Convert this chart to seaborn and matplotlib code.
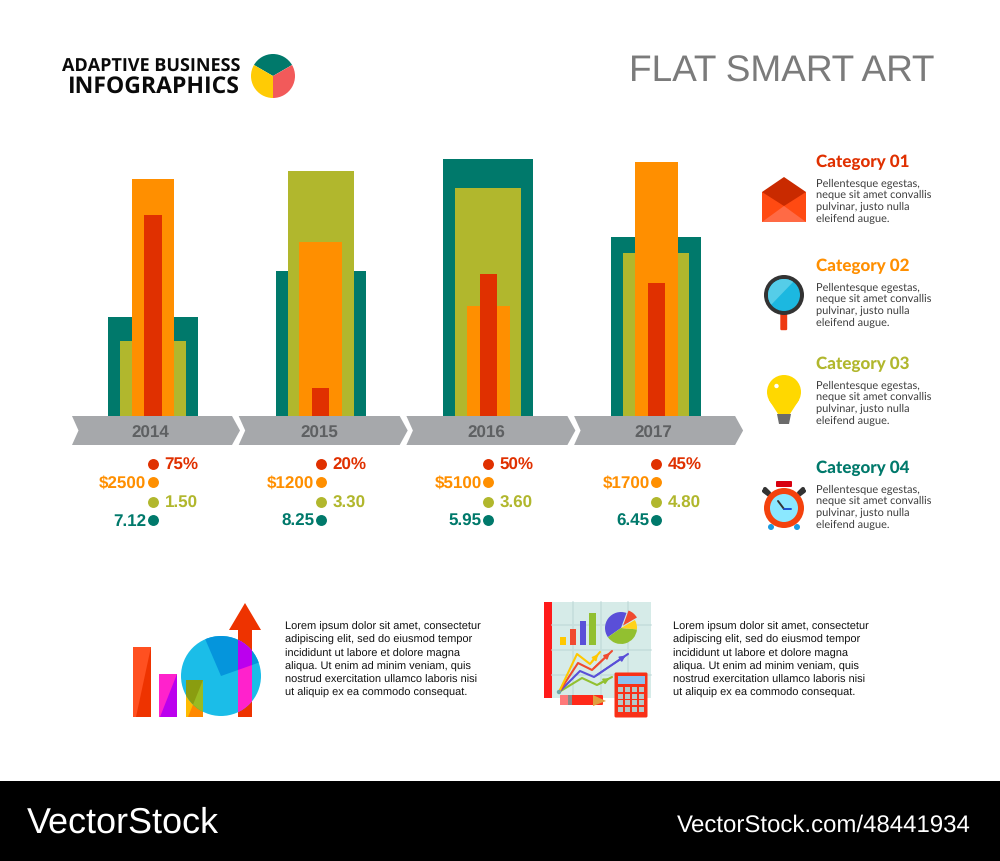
import matplotlib
matplotlib.use("Agg")
import matplotlib.pyplot as plt
import matplotlib.transforms as mtrans
import pandas as pd
import seaborn as sns
from matplotlib.patches import Polygon, Circle, FancyBboxPatch, Rectangle

# ---------- data ----------
years = ["2014", "2015", "2016", "2017"]
teal_heights = [99, 145, 257, 179]
olive_heights = [75, 245, 228, 163]
orange_heights = [237, 174, 110, 254]
red_heights = [201, 28, 142, 133]
red_labels = ["75%", "20%", "50%", "45%"]
orange_labels = ["$2500", "$1200", "$5100", "$1700"]
olive_labels = ["1.50", "3.30", "3.60", "4.80"]
teal_labels = ["7.12", "8.25", "5.95", "6.45"]
categories = ["Category 01", "Category 02", "Category 03", "Category 04"]
body_lines = ["Pellentesque egestas,", "neque sit amet convallis", "pulvinar, justo nulla", "eleifend augue."]
lorem_lines = ["Lorem ipsum dolor sit amet, consectetur", "adipiscing elit, sed do eiusmod tempor",
               "incididunt ut labore et dolore magna", "aliqua. Ut enim ad minim veniam, quis",
               "nostrud exercitation ullamco laboris nisi", "ut aliquip ex ea commodo consequat."]
logo_shares = [1, 1, 1]
mini_pie_shares = [145, 140, 35, 40]

TEAL, OLIVE, ORANGE, RED = "#00796b", "#b1b72d", "#ff8f00", "#e03000"
W, H = 1000, 861
sans = "Liberation Sans"

sns.set_theme(style="white", rc={"font.family": sans, "text.hinting": "none", "text.hinting_factor": 1})
fig = plt.figure(figsize=(W / 100, H / 100), dpi=100, facecolor="white")

# full-figure layer in pixel units
bg = fig.add_axes([0, 0, 1, 1], zorder=0)
bg.set_xlim(0, W)
bg.set_ylim(H, 0)
bg.axis("off")
bg.set_autoscale_on(False)

def poly(pts, color, ax=bg, z=2, clip=None):
    p = Polygon(pts, closed=True, facecolor=color, edgecolor="none", zorder=z)
    ax.add_patch(p)
    if clip is not None:
        p.set_clip_path(clip)
    return p

def circ(x, y, r, color, z=2):
    c = Circle((x, y), r, facecolor=color, edgecolor="none", zorder=z)
    bg.add_patch(c)
    return c

# ---------- bars ----------
step = 167.7
x0 = 153 - step / 2
base_y, top_y = 416, 150
ax = fig.add_axes([x0 / W, (H - base_y) / H, 4 * step / W, (base_y - top_y) / H], zorder=2)
df = pd.DataFrame({"year": years, "teal": teal_heights, "olive": olive_heights,
                   "orange": orange_heights, "red": red_heights})
for col, colr, wd in [("teal", TEAL, 0.537), ("olive", OLIVE, 0.394),
                      ("orange", ORANGE, 0.256), ("red", RED, 0.102)]:
    sns.barplot(data=df, x="year", y=col, color=colr, width=wd, saturation=1,
                errorbar=None, linewidth=0, edgecolor="none", ax=ax)
ax.set_xlim(-0.5, 3.5)
ax.set_ylim(0, base_y - top_y)
ax.patch.set_alpha(0)
ax.set_xlabel("")
ax.set_ylabel("")
ax.set_yticks([])
sns.despine(ax=ax, left=True, bottom=True)
ax.tick_params(axis="x", length=0, pad=12.8)
label_shift = [-3, -1, -2.5, -2.5]
for t, dx in zip(ax.get_xticklabels(), label_shift):
    t.set_fontsize(12.2)
    t.set_fontweight("bold")
    t.set_color("#5e6062")
    t.set_va("center")
    t.set_transform(t.get_transform() + mtrans.ScaledTranslation(dx / 100, 0, fig.dpi_scale_trans))

# chevrons
for i in range(4):
    l = 72 + step * i - (1 if i else 0)
    r = 240 + step * i
    poly([(l, 416), (r - 8, 416), (r, 430.5), (r - 8, 445), (l, 445), (l + 6.5, 430.5)], "#a6a8ab")

# ---------- value rows ----------
rows = [(red_labels, RED, 464, "left"), (orange_labels, ORANGE, 482, "right"),
        (olive_labels, OLIVE, 502, "left"), (teal_labels, TEAL, 520, "right")]
for labels, colr, yy, side in rows:
    xs = [153 + step * i for i in range(4)]
    sns.scatterplot(x=xs, y=[yy] * 4, color=colr, s=62, linewidth=0, ax=bg, legend=False, zorder=3)
    for x, lab in zip(xs, labels):
        if side == "left":
            bg.text(x + 11.5, yy + 1.2, lab, color=colr, fontsize=11.9, fontweight="bold", ha="left", va="center")
        else:
            bg.text(x - 6.5, yy + 1.2, lab, color=colr, fontsize=11.9, fontweight="bold", ha="right", va="center")
bg.set_xlim(0, W)
bg.set_ylim(H, 0)

# ---------- header ----------
bg.text(934, 72, "FLAT SMART ART", color="#7b7b7b", fontsize=26.95, ha="right", va="center")
bg.text(240, 66, "ADAPTIVE BUSINESS", color="#0a0a0a", fontsize=12.7, fontweight="bold",
        family="Open Sans", ha="right", va="center")
bg.text(240, 86.5, "INFOGRAPHICS", color="#0a0a0a", fontsize=16.7, fontweight="bold",
        family="Open Sans", ha="right", va="center")
logo = fig.add_axes([(273 - 22) / W, (H - 76 - 22) / H, 44 / W, 44 / H], zorder=3)
logo.pie(logo_shares, colors=[TEAL, "#ffcb05", "#f25a5a"], startangle=30, radius=1.0,
         wedgeprops={"linewidth": 0, "edgecolor": "none"})
logo.set_xlim(-1, 1)
logo.set_ylim(-1, 1)

# ---------- categories ----------
cat_colors = [RED, ORANGE, OLIVE, TEAL]
cat_y = [162.5, 266.5, 364.5, 468.5]
for name, colr, yy in zip(categories, cat_colors, cat_y):
    bg.text(816, yy, name, color=colr, fontsize=11.95, fontweight="black", family="Lato", ha="left", va="center")
    for j, line in enumerate(body_lines):
        bg.text(816, yy + 21 + j * 11.8, line, color="#3d3d3d", fontsize=7.75, family="Lato", ha="left", va="center")

# envelope
poly([(762, 192), (806, 192), (806, 222), (762, 222)], "#ff4a12")
poly([(762, 192), (784, 177), (806, 192), (784, 206)], "#c92a00", z=3)
poly([(762, 222), (784, 206), (806, 222)], "#ff6a45", z=3)
# magnifier
bg.add_patch(FancyBboxPatch((781.5, 314), 4.5, 15, boxstyle="round,pad=1.2", fc="#ee3a12", ec="none", zorder=2))
circ(784, 295, 20, "#333333", z=3)
lens = circ(784, 295, 16, "#1cb8e0", z=4)
poly([(768, 279), (796, 279), (770, 306), (768, 306)], "#55cde8", z=5, clip=lens)
# bulb
poly([(769, 400), (799, 400), (790, 414), (778, 414)], "#ffd800")
circ(784, 392, 17, "#ffd800")
circ(776.5, 386, 2.2, "white", z=3)
poly([(777, 414), (791, 414), (789, 424), (779, 424)], "#6b6b6b")
# clock
bg.add_patch(FancyBboxPatch((777, 482), 14, 4, boxstyle="round,pad=1", fc="#d8000f", ec="none", zorder=2))
for a, b in [((764, 491), (772, 497)), ((804, 491), (796, 497)), ((765, 489), (769, 493)), ((803, 489), (799, 493))]:
    bg.plot([a[0], b[0]], [a[1], b[1]], color="#333333", lw=3, zorder=2, solid_capstyle="round")
circ(771, 527, 3, "#1b9be0")
circ(797, 527, 3, "#1b9be0")
circ(784, 508, 20, "#f4420d", z=3)
circ(784, 508, 14, "#8be8ff", z=4)
bg.plot([784, 778], [509, 501], color="#333333", lw=1.4, zorder=5)
bg.plot([784, 791], [509, 509], color="#1a4fd0", lw=1.4, zorder=5)

# ---------- left icon ----------
poly([(133, 647), (151, 647), (151, 717), (133, 717)], "#ff5020")
poly([(151, 647), (151, 717), (136, 717)], "#ee3300", z=3)
poly([(159, 674), (177, 674), (177, 717), (159, 717)], "#ff22cc")
poly([(177, 674), (177, 717), (160, 717)], "#bb00ee", z=3)
big = Circle((221, 676), 40, facecolor="#1bbde8", edgecolor="none", zorder=4)
bg.add_patch(big)
poly([(221, 676), (200, 627), (270, 620), (269, 659)], "#0595dc", z=5, clip=big)
poly([(186, 680), (203, 680), (203, 717), (186, 717)], "#ffbb00", z=3)
poly([(203, 680), (203, 717), (188, 717)], "#ff8800", z=3)
poly([(186, 680), (203, 680), (203, 717), (186, 717)], "#8a9d10", z=6, clip=big)
poly([(203, 680), (203, 717), (188, 717)], "#99bb22", z=7, clip=big)
poly([(238, 630), (252, 630), (252, 717), (238, 717)], "#ee3300", z=3)
poly([(245, 603), (261, 630), (229, 630)], "#ee3300", z=3)
poly([(238, 630), (252, 630), (252, 717), (238, 717)], "#ff22cc", z=6, clip=big)
poly([(238, 630), (252, 630), (252, 665), (238, 670)], "#bb00ee", z=7, clip=big)

# ---------- right icon ----------
bg.add_patch(Rectangle((552, 602), 99, 96, fc="#d6ebe8", ec="none", zorder=2))
bg.add_patch(Rectangle((544, 602), 8, 96, fc="#ff1a1a", ec="none", zorder=2))
for g in [573, 601, 628]:
    bg.plot([g, g], [602, 698], color="#c6dedd", lw=1.2, zorder=2)
for g in [625, 650, 675]:
    bg.plot([552, 651], [g, g], color="#c6dedd", lw=1.2, zorder=2)
for (a, b, top, colr) in [(560, 566, 637, "#ffc800"), (570, 576, 629, "#f04a30"),
                          (580, 586, 621, "#5a4fd8"), (589, 596, 613, "#92c030")]:
    bg.add_patch(Rectangle((a, top), b - a, 645 - top, fc=colr, ec="none", zorder=3))
pie_ax = fig.add_axes([(621 - 20) / W, (H - 628 - 20) / H, 40 / W, 40 / H], zorder=3)
pie_ax.pie(mini_pie_shares, colors=["#5a4fd8", "#92c030", "#ffd21a", "#f04a30"], startangle=70,
           explode=[0, 0, 0, 0.2], radius=1.0, wedgeprops={"linewidth": 0, "edgecolor": "none"})
pie_ax.set_xlim(-1.25, 1.25)
pie_ax.set_ylim(-1.25, 1.25)
origin = (559, 692)
for colr, pts in [("#92c030", [(582, 678), (597, 685), (612, 677)]),
                  ("#5a4fd8", [(580, 671), (594, 677), (628, 654)]),
                  ("#f04a30", [(578, 663), (592, 670), (612, 651)]),
                  ("#ffc800", [(577, 654), (590, 664), (600, 652)])]:
    xs_, ys_ = zip(*([origin] + pts))
    bg.plot(xs_, ys_, color=colr, lw=1.5, zorder=3)
    bg.annotate("", xy=pts[-1], xytext=pts[-2], arrowprops=dict(arrowstyle="-|>", color=colr, lw=1.2, mutation_scale=8), zorder=3)
circ(559, 692, 2.2, "#6fa8a8", z=4)
# pencil
bg.add_patch(FancyBboxPatch((561, 696), 41, 8, boxstyle="round,pad=1", fc="#ff2a1a", ec="none", zorder=4))
bg.add_patch(Rectangle((568, 695), 4, 10, fc="#8a8a8a", ec="none", zorder=5))
bg.add_patch(Rectangle((560, 695), 8, 10, fc="#ff7a7a", ec="none", zorder=5))
poly([(593, 695), (606, 701), (593, 706)], "#e0a040", z=5)
# calculator
bg.add_patch(FancyBboxPatch((616, 674), 30, 42, boxstyle="round,pad=1.5", fc="#f83018", ec="none", zorder=4))
bg.add_patch(Rectangle((617.5, 676), 27, 7.5, fc="#8bc0ef", ec="none", zorder=5))
for r_ in range(4):
    for c_ in range(4):
        bg.add_patch(Rectangle((617.5 + c_ * 7, 687 + r_ * 6.7), 5.4, 5, fc="#b4c9c9", ec="none", zorder=5))

# ---------- lorem blocks ----------
lorem_y = [627, 640, 653.5, 667, 680, 693]
for tx in (285, 673):
    for yy, line in zip(lorem_y, lorem_lines):
        bg.text(tx, yy, line, color="#111111", fontsize=7.75, ha="left", va="center")

# ---------- footer ----------
bg.add_patch(Rectangle((0, 781), W, 80, fc="black", ec="none", zorder=2))
bg.text(27, 823, "VectorStock", color="white", fontsize=26.2, ha="left", va="center", zorder=3)
bg.text(971, 825.5, "VectorStock.com/48441934", color="white", fontsize=17.5,
        ha="right", va="center", zorder=3)

fig.savefig("out.png", dpi=100, facecolor="white")
